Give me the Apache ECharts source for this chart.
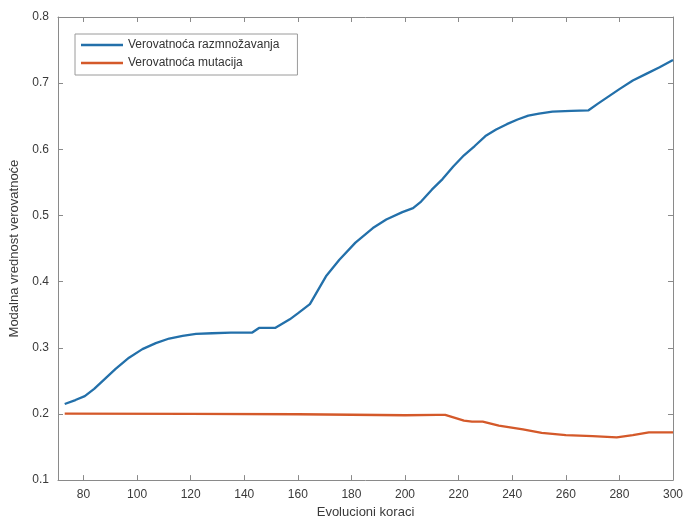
<!DOCTYPE html>
<html>
<head>
<meta charset="utf-8">
<script src="https://cdn.jsdelivr.net/npm/echarts@6/dist/echarts.min.js"></script>
<style>
html,body{margin:0;padding:0;background:#fff;}
#chart{width:686px;height:524px;}
</style>
</head>
<body>
<div id="chart"></div>
<script>
const xTicks = [80,100,120,140,160,180,200,220,240,260,280,300];
const yTicks = [0.1,0.2,0.3,0.4,0.5,0.6,0.7,0.8];
const seriesNames = ['Verovatnoća razmnožavanja','Verovatnoća mutacija'];
const reproduction = [
  [73,0.215],[77,0.221],[80.5,0.227],[84,0.238],[88,0.253],[92,0.268],[97,0.285],[102,0.298],
  [107,0.307],[112,0.314],[117,0.318],[122,0.321],[128,0.322],[135,0.323],[143,0.323],
  [145.5,0.330],[151.5,0.330],[157,0.343],[160,0.352],[164.5,0.366],[170.5,0.408],[175.5,0.433],
  [181.5,0.459],[188,0.481],[193,0.494],[199,0.505],[203,0.511],[206,0.521],[210,0.539],
  [214,0.555],[218,0.574],[222,0.591],[226,0.605],[230,0.620],[234,0.630],[238,0.638],
  [242,0.645],[246,0.651],[250,0.654],[255,0.657],[262,0.658],[268.5,0.659],[272,0.669],
  [276,0.680],[280,0.691],[285,0.704],[290,0.714],[295,0.724],[300,0.735]
];
const mutation = [
  [73,0.2005],[120,0.2],[160,0.1995],[200,0.198],[212,0.1985],[215,0.1985],[222,0.190],
  [225,0.1885],[229,0.1885],[235,0.1825],[244,0.1765],[251,0.1715],[260,0.168],[270,0.1665],
  [279,0.1645],[285,0.168],[291,0.172],[300,0.172]
];

const axisCol = '#8a8a8a';
const labelCol = '#3a3a3a';
const font = 'Liberation Sans, Arial, sans-serif';
const blue = '#2370aa';
const orange = '#d4592a';

const chart = echarts.init(document.getElementById('chart'));
chart.setOption({
  animation:false,
  backgroundColor:'#fff',
  grid:{left:57,right:10,top:17,bottom:43,containLabel:false},
  legend:{
    left:75, top:34, orient:'vertical',
    data:seriesNames.map(n=>({name:n, icon:'rect'})),
    itemWidth:42, itemHeight:2.5, itemGap:4, itemTextGap:6,
    padding:[4,18,5,6],
    borderColor:'#9a9a9a', borderWidth:1, backgroundColor:'#fff',
    textStyle:{fontFamily:font, fontSize:12, color:'#333', lineHeight:14}
  },
  xAxis:[{
    type:'value', min:70.5, max:300,
    name:'Evolucioni koraci', nameLocation:'middle', nameGap:23,
    nameTextStyle:{fontFamily:font, fontSize:13, color:labelCol},
    axisLine:{show:true, lineStyle:{color:axisCol, width:1}},
    axisTick:{show:true, inside:true, length:5, customValues:xTicks, lineStyle:{color:axisCol}},
    axisLabel:{customValues:xTicks, margin:9, fontFamily:font, fontSize:12, color:labelCol},
    splitLine:{show:false}
  },{
    type:'value', min:70.5, max:300, position:'top',
    axisLine:{show:true, lineStyle:{color:axisCol, width:1}},
    axisTick:{show:true, inside:true, length:5, customValues:xTicks, lineStyle:{color:axisCol}},
    axisLabel:{show:false},
    splitLine:{show:false}
  }],
  yAxis:[{
    type:'value', min:0.1, max:0.8, interval:0.1,
    name:'Modalna vrednost verovatnoće', nameLocation:'middle', nameGap:37,
    nameTextStyle:{fontFamily:font, fontSize:13, color:labelCol},
    axisLine:{show:true, lineStyle:{color:axisCol, width:1}},
    axisTick:{show:true, inside:true, length:5, lineStyle:{color:axisCol}},
    axisLabel:{margin:9, fontFamily:font, fontSize:12, color:labelCol,
      formatter:v=>v.toFixed(1)},
    splitLine:{show:false}
  },{
    type:'value', min:0.1, max:0.8, interval:0.1, position:'right',
    axisLine:{show:true, lineStyle:{color:axisCol, width:1}},
    axisTick:{show:true, inside:true, length:5, lineStyle:{color:axisCol}},
    axisLabel:{show:false},
    splitLine:{show:false}
  }],
  series:[{
    name:seriesNames[0], type:'line', data:reproduction, symbol:'none',
    lineStyle:{color:blue, width:2.3}, itemStyle:{color:blue}
  },{
    name:seriesNames[1], type:'line', data:mutation, symbol:'none',
    lineStyle:{color:orange, width:2.3}, itemStyle:{color:orange}
  }]
});
</script>
</body>
</html>
